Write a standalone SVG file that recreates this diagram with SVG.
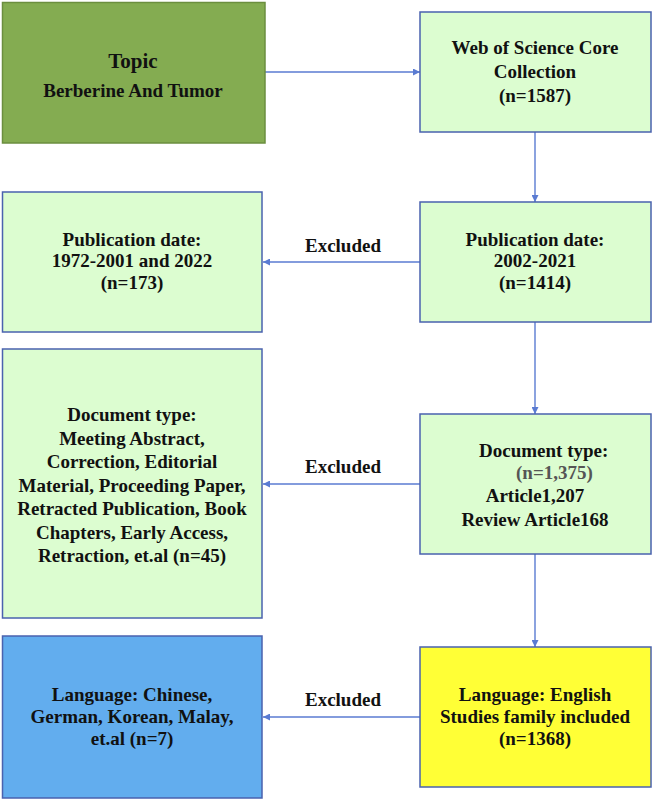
<svg xmlns="http://www.w3.org/2000/svg" width="653" height="801" viewBox="0 0 653 801">
<style>
  .box { stroke: #4a62ae; stroke-width: 1.5; }
  .g { fill: #dcfdd0; }
  .t { font-family: "Liberation Serif", "Times New Roman", serif; font-weight: bold; font-size: 19px; fill: #111; text-anchor: middle; }
  .conn { stroke: #5a7bd2; stroke-width: 1.4; fill: none; marker-end: url(#ah); }
</style>
<defs>
  <marker id="ah" viewBox="0 0 10 10" refX="10" refY="5" markerWidth="8" markerHeight="7" markerUnits="userSpaceOnUse" orient="auto">
    <path d="M0,0 L10,5 L0,10 Z" fill="#5a7bd2"/>
  </marker>
</defs>
<rect width="653" height="801" fill="#ffffff"/>

<g id="connectors">
  <line class="conn" x1="265" y1="72" x2="420" y2="72"/>
  <line class="conn" x1="535" y1="132" x2="535" y2="202"/>
  <line class="conn" x1="420" y1="262" x2="263" y2="262"/>
  <line class="conn" x1="535" y1="322" x2="535" y2="414"/>
  <line class="conn" x1="420" y1="484" x2="263" y2="484"/>
  <line class="conn" x1="535" y1="554" x2="535" y2="647"/>
  <line class="conn" x1="420" y1="717" x2="263" y2="717"/>
  <text class="t" x="343" y="252">Excluded</text>
  <text class="t" x="343" y="473">Excluded</text>
  <text class="t" x="343" y="706">Excluded</text>
</g>

<g id="topic">
  <rect x="2.5" y="2.5" width="262.5" height="140.5" fill="#84ac51" stroke="#6b8e3f" stroke-width="1.5"/>
  <text class="t" x="133" y="68" style="font-size:21px">Topic</text>
  <text class="t" x="133" y="97">Berberine And Tumor</text>
</g>

<g id="wos">
  <rect class="box g" x="420" y="12" width="231" height="120"/>
  <text class="t" x="535" y="54">Web of Science Core</text>
  <text class="t" x="535" y="78">Collection</text>
  <text class="t" x="535" y="102">(n=1587)</text>
</g>

<g id="pub-excluded">
  <rect class="box g" x="2.5" y="192" width="259.5" height="140"/>
  <text class="t" x="132" y="246">Publication date:</text>
  <text class="t" x="132" y="267">1972-2001 and 2022</text>
  <text class="t" x="132" y="289">(n=173)</text>
</g>

<g id="pub-included">
  <rect class="box g" x="420" y="202" width="231" height="120"/>
  <text class="t" x="535" y="246">Publication date:</text>
  <text class="t" x="535" y="267">2002-2021</text>
  <text class="t" x="535" y="289">(n=1414)</text>
</g>

<g id="doc-excluded">
  <rect class="box g" x="2.5" y="349" width="259.5" height="269"/>
  <text class="t" x="132" y="421">Document type:</text>
  <text class="t" x="132" y="444.5">Meeting Abstract,</text>
  <text class="t" x="132" y="468">Correction, Editorial</text>
  <text class="t" x="132" y="491.5">Material, Proceeding Paper,</text>
  <text class="t" x="132" y="515">Retracted Publication, Book</text>
  <text class="t" x="132" y="538.5">Chapters, Early Access,</text>
  <text class="t" x="132" y="562">Retraction, et.al (n=45)</text>
</g>

<g id="doc-included">
  <rect class="box g" x="420" y="414" width="231" height="140"/>
  <text class="t" x="479" y="457" style="text-anchor:start">Document type:</text>
  <text class="t" x="516" y="479" style="text-anchor:start;fill:#555555">(n=1,375)</text>
  <text class="t" x="535" y="502">Article1,207</text>
  <text class="t" x="535" y="526">Review Article168</text>
</g>

<g id="lang-excluded">
  <rect class="box" x="2.5" y="636" width="259.5" height="162" fill="#62adee"/>
  <text class="t" x="132" y="701">Language: Chinese,</text>
  <text class="t" x="132" y="723">German, Korean, Malay,</text>
  <text class="t" x="132" y="745">et.al (n=7)</text>
</g>

<g id="lang-included">
  <rect class="box" x="420" y="647" width="231" height="140" fill="#ffff36"/>
  <text class="t" x="535" y="701">Language: English</text>
  <text class="t" x="535" y="723">Studies family included</text>
  <text class="t" x="535" y="745">(n=1368)</text>
</g>
</svg>
